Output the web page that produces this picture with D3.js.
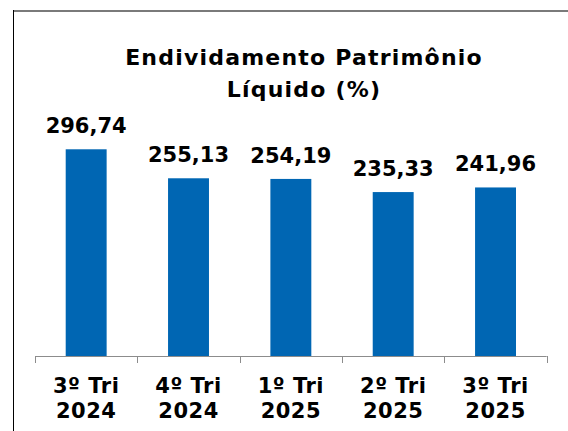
<!DOCTYPE html>
<html>
<head>
<meta charset="utf-8">
<script src="https://cdn.jsdelivr.net/npm/d3@7"></script>
<style>
  body { margin: 0; background: #fff; }
  svg { display: block; font-family: "DejaVu Sans", Verdana, sans-serif; }
</style>
</head>
<body>
<svg id="chart" width="568" height="431"></svg>
<script>
// chart data
const periods = ["3º Tri|2024", "4º Tri|2024", "1º Tri|2025", "2º Tri|2025", "3º Tri|2025"];
const values = [296.74, 255.13, 254.19, 235.33, 241.96];
const titleLines = ["Endividamento Patrimônio", "Líquido (%)"];
const yDomain = [0, 350];

const svg = d3.select("#chart");

// frame: grey top rule and black left rule
svg.append("line")
    .attr("x1", 13).attr("x2", 568)
    .attr("y1", 11).attr("y2", 11)
    .attr("stroke", "#7a7a7a")
    .attr("stroke-width", 2);
svg.append("line")
    .attr("x1", 13.5).attr("x2", 13.5)
    .attr("y1", 10).attr("y2", 431)
    .attr("stroke", "#000")
    .attr("stroke-width", 1);

const x = d3.scaleBand()
    .domain(periods)
    .range([35, 546.7])
    .paddingInner(0.6)
    .paddingOuter(0.3);

const y = d3.scaleLinear()
    .domain(yDomain)
    .range([356, 356 - 350 * 0.6966]);

// title (letter-spacing to get closer to Verdana's wider set)
svg.append("g")
    .selectAll("text")
    .data(titleLines)
    .join("text")
    .attr("x", 304)
    .attr("y", (d, i) => 65 + i * 31.5)
    .attr("text-anchor", "middle")
    .attr("font-weight", "bold")
    .attr("font-size", 22)
    .attr("letter-spacing", 1.2)
    .attr("fill", "#000")
    .text(d => d);

// bars
svg.append("g")
    .selectAll("rect")
    .data(values)
    .join("rect")
    .attr("x", (d, i) => x(periods[i]))
    .attr("y", d => y(d))
    .attr("width", x.bandwidth())
    .attr("height", d => y(0) - y(d))
    .attr("fill", "#0066b3");

// value labels
svg.append("g")
    .selectAll("text")
    .data(values)
    .join("text")
    .attr("x", (d, i) => x(periods[i]) + x.bandwidth() / 2)
    .attr("y", d => y(d) - 16)
    .attr("text-anchor", "middle")
    .attr("font-weight", "bold")
    .attr("font-size", 21)
    .text(d => d3.format(".2f")(d).replace(".", ","));

// category axis with ticks between the bands
const axisG = svg.append("g");
const edges = periods.map(p => x(p) - x.step() * x.paddingOuter())
    .concat([546.7]);
axisG.append("line")
    .attr("x1", 35).attr("x2", 546.7)
    .attr("y1", 356.5).attr("y2", 356.5)
    .attr("stroke", "#8c8c8c");
axisG.selectAll(".tick")
    .data(edges)
    .join("line")
    .attr("class", "tick")
    .attr("x1", d => Math.round(d) + 0.5).attr("x2", d => Math.round(d) + 0.5)
    .attr("y1", 356).attr("y2", 363)
    .attr("stroke", "#8c8c8c");

const labels = axisG.selectAll(".cat")
    .data(periods)
    .join("text")
    .attr("class", "cat")
    .attr("text-anchor", "middle")
    .attr("font-weight", "bold")
    .attr("font-size", 21)
    .attr("letter-spacing", 0.5)
    .attr("transform", d => `translate(${x(d) + x.bandwidth() / 2},0)`);
labels.selectAll("tspan")
    .data(d => d.split("|"))
    .join("tspan")
    .attr("x", 0)
    .attr("y", (d, i) => 393.3 + i * 24.4)
    .text(d => d);
</script>
</body>
</html>
